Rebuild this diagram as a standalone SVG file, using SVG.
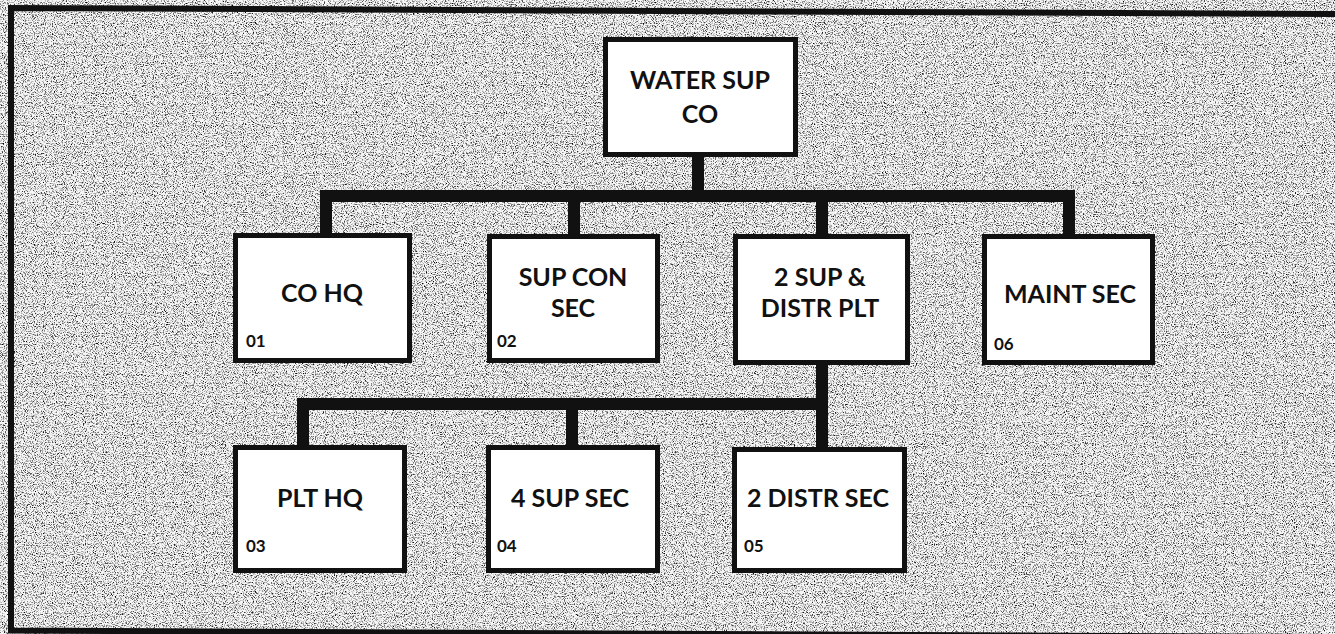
<svg xmlns="http://www.w3.org/2000/svg" width="1335" height="634" viewBox="0 0 1335 634">
<defs>
<filter id="grain" x="0" y="0" width="100%" height="100%">
<feTurbulence type="fractalNoise" baseFrequency="0.9" numOctaves="2" seed="7" result="n"/>
<feColorMatrix in="n" type="matrix" values="0 0 0 0 0  0 0 0 0 0  0 0 0 0 0  3 0 0 0 -1.45"/>
</filter>
<style>
.box{fill:#ffffff;stroke:#111;stroke-width:5}
.lbl{font-family:Lato,"Open Sans",sans-serif;font-weight:700;font-size:25px;fill:#111;text-anchor:middle}
.num{font-family:Lato,"Open Sans",sans-serif;font-weight:700;font-size:17px;fill:#111}
.con{fill:none;stroke:#111;stroke-width:12;stroke-linejoin:miter}
</style>
</defs>
<rect x="0" y="0" width="1335" height="634" fill="#f6f6f6"/>
<rect x="0" y="0" width="1335" height="634" fill="#000" filter="url(#grain)"/>
<path d="M1345,14 L11,8 L11,630.5 L1345,637" fill="none" stroke="#111" stroke-width="6"/>
<g id="connectors">
<path class="con" d="M698,157 V196"/>
<path class="con" d="M326,235 V196 H1069 V235"/>
<path class="con" d="M574,196 V235"/>
<path class="con" d="M822,196 V235"/>
<path class="con" d="M822,365 V404"/>
<path class="con" d="M303,446 V404 H822 V448"/>
<path class="con" d="M572,404 V446"/>
</g>
<g id="n-water">
<rect class="box" x="605.5" y="39.5" width="190" height="115"/>
<text class="lbl" x="700" y="89">WATER SUP</text>
<text class="lbl" x="700" y="123">CO</text>
</g>
<g id="n01">
<rect class="box" x="235.5" y="235.5" width="174" height="125"/>
<text class="lbl" x="322" y="302">CO HQ</text>
<text class="num" x="246" y="347">01</text>
</g>
<g id="n02">
<rect class="box" x="489.5" y="236.5" width="168" height="124"/>
<text class="lbl" x="573" y="286">SUP CON</text>
<text class="lbl" x="573" y="317">SEC</text>
<text class="num" x="497" y="347">02</text>
</g>
<g id="n-plt">
<rect class="box" x="735.5" y="236.5" width="172" height="126"/>
<text class="lbl" x="820" y="286">2 SUP &amp;</text>
<text class="lbl" x="820" y="317">DISTR PLT</text>
</g>
<g id="n06">
<rect class="box" x="984.5" y="236.5" width="168" height="126"/>
<text class="lbl" x="1070" y="303">MAINT SEC</text>
<text class="num" x="994" y="350">06</text>
</g>
<g id="n03">
<rect class="box" x="235.5" y="447.5" width="169" height="123"/>
<text class="lbl" x="320" y="507">PLT HQ</text>
<text class="num" x="246" y="552">03</text>
</g>
<g id="n04">
<rect class="box" x="488.5" y="447.5" width="169" height="123"/>
<text class="lbl" x="570" y="507">4 SUP SEC</text>
<text class="num" x="497" y="552">04</text>
</g>
<g id="n05">
<rect class="box" x="734.5" y="449.5" width="170" height="121"/>
<text class="lbl" x="818" y="507">2 DISTR SEC</text>
<text class="num" x="744" y="552">05</text>
</g>
</svg>
